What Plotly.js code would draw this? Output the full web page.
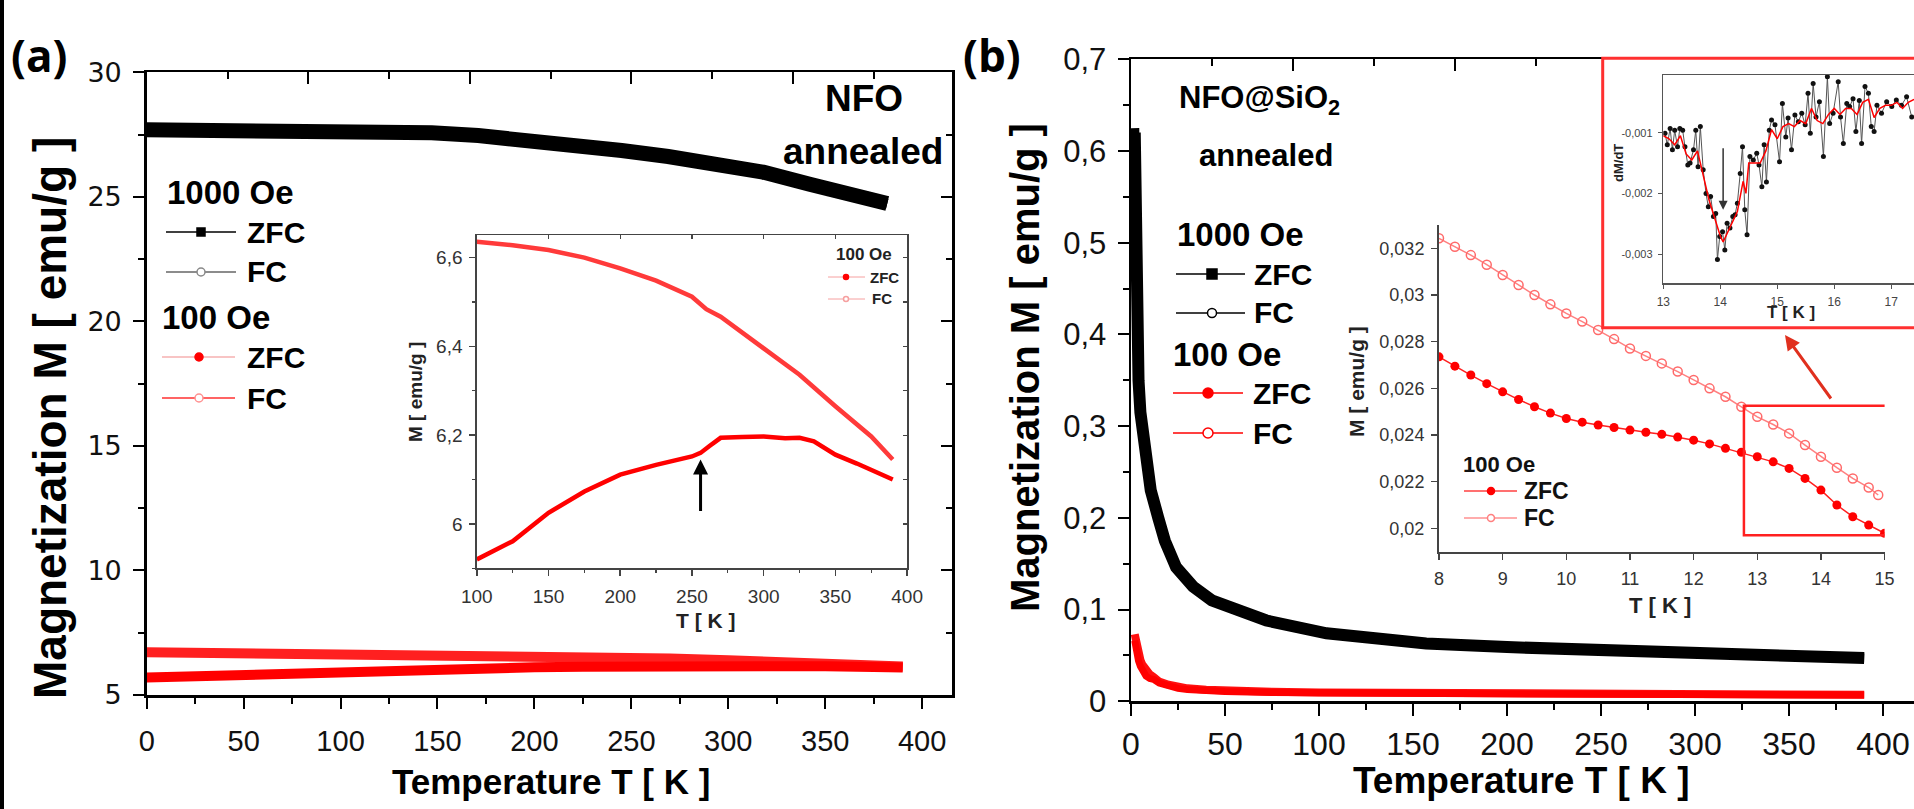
<!DOCTYPE html>
<html>
<head>
<meta charset="utf-8">
<script src="https://cdn.plot.ly/plotly-3.0.1.min.js"></script>
<style>html,body{margin:0;padding:0;background:#fff;}#chart{width:1914px;height:809px;}</style>
</head>
<body>
<div id="chart"></div>
<script>
// ---------------- DATA ----------------
// Panel (a) NFO annealed, main plot: 1000 Oe
const T_a_1000 = [0, 25, 49, 73, 98, 122, 147, 171, 196, 220, 245, 269, 293, 318, 342, 362, 382];
const ZFC_a_1000 = [27.67, 27.67, 27.66, 27.65, 27.63, 27.62, 27.56, 27.45, 27.29, 27.08, 26.85, 26.61, 26.36, 25.98, 25.50, 25.12, 24.72];
const FC_a_1000 = [27.69, 27.69, 27.68, 27.67, 27.65, 27.63, 27.57, 27.46, 27.30, 27.09, 26.86, 26.62, 26.37, 25.99, 25.51, 25.13, 24.73];
// Panel (a) main plot: 100 Oe
const T_a_100 = [0, 25, 50, 75, 100, 125, 150, 175, 200, 225, 250, 260, 270, 300, 325, 340, 350, 375, 390];
const ZFC_a_100 = [5.70, 5.76, 5.81, 5.87, 5.92, 5.96, 6.02, 6.07, 6.11, 6.135, 6.152, 6.17, 6.194, 6.197, 6.193, 6.18, 6.158, 6.122, 6.10];
const FC_a_100 = [6.72, 6.70, 6.68, 6.66, 6.636, 6.628, 6.617, 6.60, 6.576, 6.548, 6.512, 6.49, 6.467, 6.396, 6.336, 6.30, 6.265, 6.197, 6.145];
// Panel (a) inset (100 Oe, 100-390 K)
const T_ai_zfc = [100, 125, 150, 175, 200, 225, 250, 256, 262, 270, 285, 300, 315, 325, 335, 350, 365, 375, 390];
const ZFC_ai = [5.92, 5.961, 6.025, 6.073, 6.111, 6.133, 6.152, 6.16, 6.175, 6.194, 6.196, 6.197, 6.193, 6.194, 6.186, 6.156, 6.136, 6.122, 6.10];
const T_ai_fc = [100, 125, 150, 175, 200, 225, 250, 260, 270, 300, 325, 350, 375, 390];
const FC_ai = [6.636, 6.628, 6.617, 6.60, 6.576, 6.548, 6.512, 6.484, 6.467, 6.396, 6.336, 6.265, 6.197, 6.145];
const arrow_a_T = 256, arrow_a_M = 6.145;

// Panel (b) NFO@SiO2 annealed, main plot
const T_b_1000 = [2, 2.5, 3, 4, 5, 6, 7.5, 10.5, 14.5, 18, 24, 33, 43, 55, 72, 104, 157, 200, 250, 300, 350, 390];
const ZFC_b_1000 = [0.625, 0.48, 0.40, 0.35, 0.315, 0.30, 0.27, 0.23, 0.20, 0.175, 0.146, 0.125, 0.11, 0.10, 0.088, 0.074, 0.063, 0.059, 0.055, 0.052, 0.049, 0.047];
const FC_b_1000 = [0.62, 0.478, 0.40, 0.35, 0.315, 0.30, 0.27, 0.23, 0.20, 0.175, 0.146, 0.125, 0.11, 0.10, 0.088, 0.074, 0.063, 0.059, 0.055, 0.052, 0.049, 0.047];
const T_b_100 = [2, 3, 4, 5, 6, 8, 10, 12, 15, 20, 25, 30, 40, 50, 75, 100, 150, 200, 250, 300, 350, 390];
const FC_b_100 = [0.073, 0.06, 0.051, 0.045, 0.04, 0.0324, 0.0292, 0.0264, 0.0214, 0.018, 0.0155, 0.014, 0.0125, 0.0115, 0.0102, 0.0095, 0.0087, 0.0082, 0.0078, 0.0075, 0.0072, 0.007];
const ZFC_b_100 = [0.066, 0.052, 0.044, 0.038, 0.034, 0.0274, 0.0247, 0.0238, 0.0198, 0.0165, 0.014, 0.0128, 0.0115, 0.0105, 0.0095, 0.009, 0.0083, 0.0079, 0.0075, 0.0072, 0.007, 0.0068];
// Panel (b) inset (100 Oe, 8-15 K)
const T_bi_zfc = [8, 8.25, 8.5, 8.75, 9, 9.25, 9.5, 9.75, 10, 10.25, 10.5, 10.75, 11, 11.25, 11.5, 11.75, 12, 12.25, 12.5, 12.75, 13, 13.25, 13.5, 13.75, 14, 14.25, 14.5, 14.75, 15];
const ZFC_bi = [0.02735, 0.02695, 0.02657, 0.0262, 0.02585, 0.02552, 0.02521, 0.02494, 0.02471, 0.02455, 0.02443, 0.02432, 0.02421, 0.02412, 0.02403, 0.02391, 0.02378, 0.02362, 0.02343, 0.02326, 0.02307, 0.02285, 0.02257, 0.02214, 0.02164, 0.0210, 0.0205, 0.02014, 0.01979];
const T_bi_fc = [8, 8.25, 8.5, 8.75, 9, 9.25, 9.5, 9.75, 10, 10.25, 10.5, 10.75, 11, 11.25, 11.5, 11.75, 12, 12.25, 12.5, 12.75, 13, 13.25, 13.5, 13.75, 14, 14.25, 14.5, 14.75, 14.9];
const FC_bi = [0.03243, 0.03207, 0.03171, 0.0313, 0.03086, 0.03043, 0.0300, 0.0296, 0.02921, 0.02886, 0.0285, 0.02811, 0.02771, 0.02739, 0.02707, 0.02672, 0.02636, 0.026, 0.02564, 0.02521, 0.02478, 0.02445, 0.02407, 0.02357, 0.02307, 0.0226, 0.02214, 0.02175, 0.02143];
const zoomBox_T = [12.79, 15.17], zoomBox_M = [0.01971, 0.02525];
// Panel (b) dM/dT inset
const T_d = [13.03, 13.07, 13.12, 13.16, 13.2, 13.25, 13.29, 13.34, 13.38, 13.43, 13.47, 13.53, 13.57, 13.61, 13.65, 13.7, 13.75, 13.79, 13.83, 13.88, 13.92, 13.95, 13.99, 14.04, 14.08, 14.12, 14.17, 14.22, 14.26, 14.3, 14.35, 14.39, 14.43, 14.47, 14.52, 14.58, 14.64, 14.68, 14.73, 14.77, 14.81, 14.86, 14.9, 14.96, 15.04, 15.09, 15.15, 15.19, 15.25, 15.31, 15.37, 15.43, 15.49, 15.54, 15.58, 15.63, 15.68, 15.74, 15.81, 15.88, 15.92, 15.98, 16.07, 16.11, 16.16, 16.22, 16.27, 16.33, 16.38, 16.44, 16.48, 16.54, 16.6, 16.65, 16.7, 16.75, 16.83, 16.92, 17.01, 17.09, 17.18, 17.27, 17.36];
const dMdT = [-0.00101, -0.0012, -0.00093, -0.00128, -0.00096, -0.00123, -0.00093, -0.00096, -0.00123, -0.00153, -0.0015, -0.00128, -0.00096, -0.00156, -0.0009, -0.00161, -0.002, -0.00222, -0.00205, -0.00238, -0.00233, -0.00309, -0.00271, -0.00263, -0.00293, -0.00249, -0.00257, -0.00238, -0.00235, -0.00216, -0.00167, -0.00123, -0.00227, -0.00268, -0.00139, -0.00145, -0.00134, -0.00153, -0.00189, -0.0012, -0.00181, -0.00096, -0.00079, -0.00087, -0.00148, -0.00052, -0.00107, -0.00076, -0.00128, -0.00071, -0.00082, -0.00068, -0.00087, -0.00035, -0.00101, -0.00019, -0.00074, -0.00049, -0.00139, -0.00008, -0.00085, -0.00068, -0.00016, -0.00074, -0.00118, -0.00052, -0.00057, -0.00044, -0.00098, -0.00047, -0.00118, -0.00024, -0.00035, -0.0009, -0.00098, -0.00055, -0.00068, -0.00049, -0.00057, -0.00046, -0.00055, -0.00041, -0.00074];
const T_ds = [13.0, 13.1, 13.2, 13.3, 13.4, 13.5, 13.6, 13.7, 13.8, 13.9, 14.0, 14.05, 14.1, 14.2, 14.3, 14.4, 14.45, 14.5, 14.6, 14.7, 14.8, 14.9, 15.0, 15.1, 15.2, 15.3, 15.4, 15.5, 15.6, 15.7, 15.8, 15.9, 16.0, 16.1, 16.2, 16.3, 16.4, 16.5, 16.6, 16.7, 16.8, 16.9, 17.0, 17.1, 17.2, 17.3, 17.4];
const dMdT_smooth = [-0.00105, -0.0011, -0.0012, -0.00105, -0.00135, -0.00145, -0.0013, -0.0017, -0.0021, -0.0024, -0.0027, -0.0028, -0.0027, -0.0025, -0.0023, -0.0018, -0.0020, -0.0015, -0.0015, -0.0015, -0.0013, -0.00095, -0.0011, -0.0009, -0.00085, -0.0009, -0.0008, -0.00085, -0.0006, -0.0008, -0.00085, -0.0007, -0.0006, -0.0007, -0.0006, -0.0006, -0.0007, -0.0005, -0.00045, -0.00075, -0.0006, -0.00055, -0.00055, -0.0005, -0.0006, -0.0005, -0.00045];
const arrow_d_T = 14.05, arrow_d_V = -0.00227;
// tick labels of the dM/dT inset
const dMdT_tickvals = [-0.003, -0.002, -0.001];
const dMdT_ticktext = ['-0,003', '-0,002', '-0,001'];

// ---------------- HELPERS ----------------
const W = 1914, H = 809;
const PX = v => v / W;
const PY = v => 1 - v / H;
const SANS = 'Liberation Sans, Arial, sans-serif';

function ax(o) {
  return Object.assign({
    showgrid: false, zeroline: false, showline: true, linecolor: '#000', linewidth: 2.5,
    ticks: 'outside', tickcolor: '#000', tickwidth: 2, ticklen: 10, fixedrange: true,
    tickfont: {family: SANS, size: 29, color: '#111'}
  }, o);
}

// ---------------- TRACES ----------------
const traces = [
  // (a) main
  {x: T_a_1000, y: FC_a_1000, xaxis: 'x', yaxis: 'y', mode: 'lines', line: {color: '#000', width: 15}},
  {x: T_a_1000, y: ZFC_a_1000, xaxis: 'x', yaxis: 'y', mode: 'lines', line: {color: '#000', width: 10}},
  {x: T_a_100, y: FC_a_100, xaxis: 'x', yaxis: 'y', mode: 'lines', line: {color: '#ff2020', width: 10}},
  {x: T_a_100, y: ZFC_a_100, xaxis: 'x', yaxis: 'y', mode: 'lines', line: {color: '#ff0000', width: 10}},
  // (a) inset
  {x: T_ai_fc, y: FC_ai, xaxis: 'x2', yaxis: 'y2', mode: 'lines', line: {color: '#ff3a3a', width: 4.5}},
  {x: T_ai_zfc, y: ZFC_ai, xaxis: 'x2', yaxis: 'y2', mode: 'lines', line: {color: '#ff0000', width: 4.5}},
  // (b) main
  {x: T_b_1000, y: FC_b_1000, xaxis: 'x3', yaxis: 'y3', mode: 'lines', line: {color: '#000', width: 12}},
  {x: T_b_1000, y: ZFC_b_1000, xaxis: 'x3', yaxis: 'y3', mode: 'lines', line: {color: '#000', width: 9}},
  {x: T_b_100, y: FC_b_100, xaxis: 'x3', yaxis: 'y3', mode: 'lines', line: {color: '#ff1010', width: 8}},
  {x: T_b_100, y: ZFC_b_100, xaxis: 'x3', yaxis: 'y3', mode: 'lines', line: {color: '#ff0000', width: 7}},
  // (b) inset
  {x: T_bi_fc, y: FC_bi, xaxis: 'x4', yaxis: 'y4', mode: 'lines+markers', line: {color: '#ff8080', width: 1.5},
   marker: {symbol: 'circle-open', size: 9, color: '#ff6a6a', line: {width: 1.5}}},
  {x: T_bi_zfc, y: ZFC_bi, xaxis: 'x4', yaxis: 'y4', mode: 'lines+markers', line: {color: '#ff2020', width: 1.5},
   marker: {symbol: 'circle', size: 9, color: '#ff0000'}},
  // (b) dM/dT inset
  {x: T_d, y: dMdT, xaxis: 'x5', yaxis: 'y5', mode: 'lines+markers', line: {color: '#555', width: 1},
   marker: {symbol: 'circle', size: 5, color: '#111'}},
  {x: T_ds, y: dMdT_smooth, xaxis: 'x5', yaxis: 'y5', mode: 'lines', line: {color: '#ff0000', width: 1.5}},
  // empty traces so that the mirrored frame axes (top / right) are drawn
  {x: [], y: [], xaxis: 'x6', yaxis: 'y', type: 'scatter', hoverinfo: 'skip'},
  {x: [], y: [], xaxis: 'x', yaxis: 'y6', type: 'scatter', hoverinfo: 'skip'},
  {x: [], y: [], xaxis: 'x7', yaxis: 'y2', type: 'scatter', hoverinfo: 'skip'},
  {x: [], y: [], xaxis: 'x2', yaxis: 'y7', type: 'scatter', hoverinfo: 'skip'},
  {x: [], y: [], xaxis: 'x8', yaxis: 'y3', type: 'scatter', hoverinfo: 'skip'}
];

// ---------------- LAYOUT ----------------
const layout = {
  width: W, height: H, margin: {l: 0, r: 0, t: 0, b: 0}, autosize: false,
  paper_bgcolor: '#fff', plot_bgcolor: 'rgba(0,0,0,0)', showlegend: false,
  separators: ', ',
  font: {family: SANS, color: '#000'},
  // (a) main
  xaxis: ax({domain: [PX(146.7), PX(952)], range: [0, 415.4], anchor: 'y', dtick: 50, tick0: 0,
    ticklen: 11, minor: {dtick: 25, ticks: 'outside', ticklen: 6, tickwidth: 2, tickcolor: '#000'}, ticklabelstandoff: 8}),
  yaxis: ax({domain: [PY(695), PY(72.3)], range: [5, 30], anchor: 'x', dtick: 5, tick0: 0,
    ticklen: 11, minor: {dtick: 2.5, ticks: 'outside', ticklen: 6, tickwidth: 2, tickcolor: '#000'},
    ticklabelstandoff: 6, tickfont: {family: 'DejaVu Sans, sans-serif', size: 27, color: '#111'}}),
  xaxis6: ax({overlaying: 'x', side: 'top', anchor: 'y', range: [0, 9.967], tickmode: 'array', tickvals: [2, 4, 6, 8],
    ticks: 'inside', ticklen: 12, showticklabels: false,
    minor: {tickmode: 'array', tickvals: [1, 3, 5, 7, 9], ticks: 'inside', ticklen: 7, tickwidth: 2, tickcolor: '#000'}}),
  yaxis6: ax({overlaying: 'y', side: 'right', anchor: 'x', range: [5, 30], dtick: 5, tick0: 0,
    ticks: 'inside', ticklen: 11, showticklabels: false,
    minor: {dtick: 2.5, ticks: 'inside', ticklen: 6, tickwidth: 2, tickcolor: '#000'}}),
  // (a) inset
  xaxis2: ax({domain: [PX(476.8), PX(907.1)], range: [100, 400], anchor: 'y2', dtick: 50, tick0: 0,
    linecolor: '#444', linewidth: 1.5, tickcolor: '#444', tickwidth: 1.5, ticklen: 6, ticklabelstandoff: 4,
    tickfont: {family: SANS, size: 19, color: '#333'},
    minor: {dtick: 25, ticks: 'outside', ticklen: 3, tickwidth: 1.2, tickcolor: '#444'}}),
  yaxis2: ax({domain: [PY(568.3), PY(235)], range: [5.90, 6.651], anchor: 'x2', dtick: 0.2, tick0: 6,
    linecolor: '#444', linewidth: 1.5, tickcolor: '#444', tickwidth: 1.5, ticklen: 6, ticklabelstandoff: 3,
    tickfont: {family: SANS, size: 19, color: '#333'},
    minor: {dtick: 0.1, ticks: 'outside', ticklen: 3, tickwidth: 1.2, tickcolor: '#444'}}),
  xaxis7: ax({overlaying: 'x2', side: 'top', anchor: 'y2', range: [100, 400], dtick: 50, tick0: 0,
    linecolor: '#444', linewidth: 1.5, tickcolor: '#444', tickwidth: 1.2, ticks: 'inside', ticklen: 4, showticklabels: false}),
  yaxis7: ax({overlaying: 'y2', side: 'right', anchor: 'x2', range: [5.90, 6.651], dtick: 0.1, tick0: 6,
    linecolor: '#444', linewidth: 1.5, tickcolor: '#444', tickwidth: 1.2, ticks: 'inside', ticklen: 4, showticklabels: false}),
  // (b) main
  xaxis3: ax({domain: [PX(1131), 1], range: [0, 416.5], anchor: 'y3', dtick: 50, tick0: 0,
    ticklen: 12, ticklabelstandoff: 1, tickfont: {family: SANS, size: 32, color: '#111'},
    minor: {dtick: 25, ticks: 'outside', ticklen: 6, tickwidth: 2, tickcolor: '#000'}}),
  yaxis3: ax({domain: [PY(701.2), PY(59.3)], range: [0, 0.7], anchor: 'x3', dtick: 0.1, tick0: 0,
    ticklen: 11, ticklabelstandoff: 5, tickfont: {family: SANS, size: 31, color: '#111'},
    minor: {dtick: 0.05, ticks: 'outside', ticklen: 6, tickwidth: 2, tickcolor: '#000'}}),
  xaxis8: ax({overlaying: 'x3', side: 'top', anchor: 'y3', range: [0, 9.667], tickmode: 'array', tickvals: [2, 4],
    ticks: 'inside', ticklen: 12, showticklabels: false,
    minor: {tickmode: 'array', tickvals: [1, 3, 5], ticks: 'inside', ticklen: 7, tickwidth: 2, tickcolor: '#000'}}),
  // (b) inset
  xaxis4: ax({domain: [PX(1439), PX(1884.6)], range: [8, 15], anchor: 'y4', dtick: 1, tick0: 0,
    linecolor: '#444', linewidth: 2, tickcolor: '#444', tickwidth: 1.5, ticklen: 6, ticklabelstandoff: 4,
    tickfont: {family: SANS, size: 18, color: '#333'}}),
  yaxis4: ax({domain: [PY(551.7), PY(225)], range: [0.019, 0.033], anchor: 'x4', dtick: 0.002, tick0: 0,
    linecolor: '#444', linewidth: 2, tickcolor: '#444', tickwidth: 1.5, ticklen: 6, ticklabelstandoff: 3,
    tickfont: {family: SANS, size: 18, color: '#333'}}),
  // (b) dM/dT inset
  xaxis5: ax({domain: [PX(1663.3), 1], range: [13, 17.4], anchor: 'y5', dtick: 1, tick0: 0, mirror: true,
    linecolor: '#555', linewidth: 1.5, tickcolor: '#555', tickwidth: 1, ticklen: 4, ticklabelstandoff: 3,
    tickfont: {family: SANS, size: 12, color: '#444'}}),
  yaxis5: ax({domain: [PY(283.3), PY(75)], range: [-0.00348, -0.00005], anchor: 'x5', tickmode: 'array',
    tickvals: dMdT_tickvals, ticktext: dMdT_ticktext, mirror: true,
    linecolor: '#555', linewidth: 1.5, tickcolor: '#555', tickwidth: 1, ticklen: 4, ticklabelstandoff: 3,
    tickfont: {family: SANS, size: 11, color: '#444'}}),
  shapes: [],
  annotations: []
};

// ---------------- DECORATIONS ----------------
const S = layout.shapes, A = layout.annotations;
function hline(x0, x1, y, color, width) {
  S.push({type: 'line', xref: 'paper', yref: 'paper', x0: PX(x0), x1: PX(x1), y0: PY(y), y1: PY(y),
    line: {color: color, width: width}, layer: 'above'});
}
function dot(x, y, r, fill, edge, kind) {
  S.push({type: kind || 'circle', xref: 'paper', yref: 'paper', x0: PX(x - r), x1: PX(x + r), y0: PY(y + r), y1: PY(y - r),
    fillcolor: fill, line: {color: edge, width: 1.5}, layer: 'above'});
}
function txt(s, x, y, size, opts) {
  A.push(Object.assign({text: s, xref: 'paper', yref: 'paper', x: PX(x), y: PY(y), showarrow: false,
    xanchor: 'left', yanchor: 'middle', font: {family: SANS, size: size, color: '#000'}}, opts || {}));
}

// figure frame line on far left
S.push({type: 'rect', xref: 'paper', yref: 'paper', x0: 0, x1: PX(4), y0: 0, y1: 1, fillcolor: '#000', line: {width: 0}, layer: 'above'});

// panel labels
txt('<b>(a)</b>', 9, 55, 44, {font: {family: 'Open Sans, sans-serif', size: 44, color: '#000'}});
txt('<b>(b)</b>', 961, 55, 44, {font: {family: 'Open Sans, sans-serif', size: 44, color: '#000'}});

// axis titles (a)
txt('<b>Magnetization M [ emu/g ]</b>', 50, 418, 46, {xanchor: 'center', textangle: -90});
txt('<b>Temperature T [ K ]</b>', 551, 781, 35, {xanchor: 'center'});
txt('<b>M [ emu/g ]</b>', 416, 392, 19, {xanchor: 'center', textangle: -90, font: {family: SANS, size: 19, color: '#222'}});
txt('<b>T [ K ]</b>', 705, 620, 21, {xanchor: 'center', font: {family: SANS, size: 21, color: '#222'}});
// axis titles (b)
txt('<b>Magnetization M [ emu/g ]</b>', 1025, 368, 40, {xanchor: 'center', textangle: -90});
txt('<b>Temperature T [ K ]</b>', 1521, 780, 37, {xanchor: 'center'});
txt('<b>M [ emu/g ]</b>', 1357, 382, 21, {xanchor: 'center', textangle: -90, font: {family: SANS, size: 21, color: '#222'}});
txt('<b>T [ K ]</b>', 1660, 605, 22, {xanchor: 'center', font: {family: SANS, size: 22, color: '#222'}});
txt('<b>dM/dT</b>', 1618, 163, 13, {xanchor: 'center', textangle: -90, font: {family: SANS, size: 13, color: '#222'}});
txt('<b>T [ K ]</b>', 1791, 313, 17, {xanchor: 'center', font: {family: SANS, size: 17, color: '#222'}});

// sample names
txt('<b>NFO</b>', 864, 98, 37, {xanchor: 'center'});
txt('<b>annealed</b>', 863, 152, 37, {xanchor: 'center'});
txt('<b>NFO@SiO<sub>2</sub></b>', 1259, 100, 31, {xanchor: 'center'});
txt('<b>annealed</b>', 1266, 155, 31, {xanchor: 'center'});

// legend (a) main
txt('<b>1000 Oe</b>', 165, 192, 33);
hline(166, 236, 232, '#000', 1.5); dot(201, 232, 4, '#000', '#000', 'rect');
txt('<b>ZFC</b>', 245, 232, 30);
hline(166, 236, 272, '#666', 1.5); dot(201, 272, 4, '#fff', '#888');
txt('<b>FC</b>', 245, 272, 30);
txt('<b>100 Oe</b>', 160, 317, 33);
hline(162, 235, 357, '#f6b0b0', 1.5); dot(199, 357, 4, '#ff0000', '#ff0000');
txt('<b>ZFC</b>', 245, 357, 30);
hline(162, 235, 398, '#ff3030', 1.5); dot(199, 398, 4, '#fff', '#ff9090');
txt('<b>FC</b>', 245, 398, 30);

// legend (a) inset
txt('<b>100 Oe</b>', 834, 254, 17, {font: {family: SANS, size: 17, color: '#222'}});
hline(828, 865, 277, '#f6a0a0', 1); dot(846, 277, 2.5, '#ff0000', '#ff0000');
txt('<b>ZFC</b>', 868, 277, 15, {font: {family: SANS, size: 15, color: '#222'}});
hline(828, 865, 299, '#f6a0a0', 1); dot(846, 299, 2.5, '#fff', '#f6a0a0');
txt('<b>FC</b>', 870, 299, 15, {font: {family: SANS, size: 15, color: '#222'}});

// legend (b) main
txt('<b>1000 Oe</b>', 1175, 235, 33);
hline(1176, 1245, 274, '#000', 1.5); dot(1212, 274, 5, '#000', '#000', 'rect');
txt('<b>ZFC</b>', 1252, 274, 30);
hline(1176, 1245, 313, '#000', 1.5); dot(1212, 313, 4.5, '#fff', '#000');
txt('<b>FC</b>', 1252, 313, 30);
txt('<b>100 Oe</b>', 1171, 355, 33);
hline(1173, 1243, 393, '#ff0000', 1.5); dot(1208, 393, 5, '#ff0000', '#ff0000');
txt('<b>ZFC</b>', 1251, 393, 30);
hline(1173, 1243, 433, '#ff0000', 1.5); dot(1208, 433, 5, '#fff', '#ff0000');
txt('<b>FC</b>', 1251, 433, 30);

// legend (b) inset
txt('<b>100 Oe</b>', 1461, 464, 22, {font: {family: SANS, size: 22, color: '#111'}});
hline(1464, 1517, 491, '#ff4040', 1.5); dot(1491, 491, 3.5, '#ff0000', '#ff0000');
txt('<b>ZFC</b>', 1522, 491, 23, {font: {family: SANS, size: 23, color: '#111'}});
hline(1464, 1517, 518, '#ff9090', 1.5); dot(1491, 518, 3.5, '#fff', '#ff8080');
txt('<b>FC</b>', 1522, 518, 23, {font: {family: SANS, size: 23, color: '#111'}});

// red zoom box on the (b) inset and box around dM/dT inset
S.push({type: 'rect', xref: 'x4', yref: 'y4', x0: zoomBox_T[0], x1: zoomBox_T[1], y0: zoomBox_M[0], y1: zoomBox_M[1],
  line: {color: '#ff2020', width: 2.5}, fillcolor: 'rgba(0,0,0,0)', layer: 'above'});
S.push({type: 'rect', xref: 'paper', yref: 'paper', x0: PX(1602.7), x1: PX(1930), y0: PY(327.7), y1: PY(58.3),
  line: {color: '#ff3030', width: 3}, fillcolor: 'rgba(0,0,0,0)', layer: 'above'});

// arrows
A.push({xref: 'x2', yref: 'y2', x: arrow_a_T, y: arrow_a_M, ax: 0, ay: 53, text: '', showarrow: true,
  arrowhead: 2, arrowsize: 1, arrowwidth: 3, arrowcolor: '#000'});
A.push({xref: 'x5', yref: 'y5', x: arrow_d_T, y: arrow_d_V, ax: 0, ay: -63, text: '', showarrow: true,
  arrowhead: 2, arrowsize: 1.2, arrowwidth: 1.5, arrowcolor: '#333'});
A.push({xref: 'paper', yref: 'paper', x: PX(1785), y: PY(335), ax: 47, ay: 65, text: '', showarrow: true,
  arrowhead: 2, arrowsize: 1, arrowwidth: 3, arrowcolor: '#e0301e'});

Plotly.newPlot('chart', traces, layout, {staticPlot: true, displayModeBar: false});
</script>
</body>
</html>
